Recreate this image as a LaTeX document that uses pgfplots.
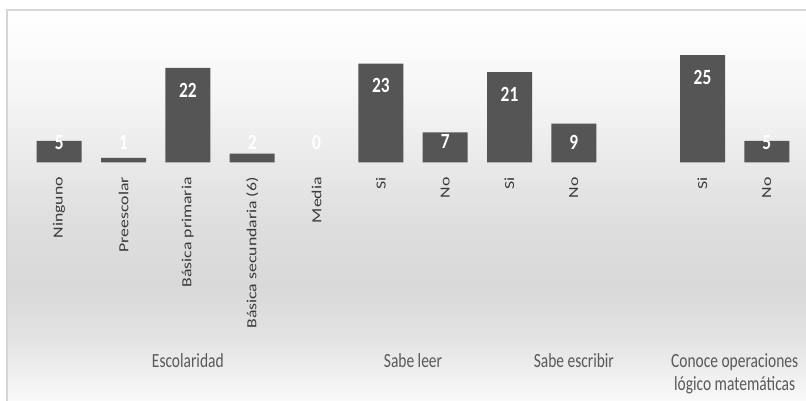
\documentclass[border=0pt]{standalone}
\usepackage{pgfplots}
\pgfplotsset{compat=1.18}
\usepackage{fontspec}
\setmainfont{Carlito}
\definecolor{barfill}{HTML}{555555}
\definecolor{ticktext}{HTML}{3A3A3A}
\definecolor{grouptext}{HTML}{595959}
\definecolor{framec}{HTML}{D6D6D6}
\definecolor{bgA}{HTML}{FBFBFB}
\definecolor{bgB}{HTML}{F0F0F0}
\definecolor{bgC}{HTML}{E2E2E2}
\definecolor{bgD}{HTML}{D9D9D9}
\definecolor{bgE}{HTML}{DEDEDE}
\definecolor{bgF}{HTML}{E9E9E9}
\definecolor{bgG}{HTML}{F6F6F6}
\definecolor{bgH}{HTML}{FFFFFF}
\pgfdeclareverticalshading{bgshade}{100bp}{color(0bp)=(bgA); color(25bp)=(bgA); color(28.85bp)=(bgB); color(33.97bp)=(bgC); color(40.4bp)=(bgD); color(48.1bp)=(bgE); color(55.8bp)=(bgF); color(64.7bp)=(bgG); color(75bp)=(bgH); color(100bp)=(bgH)}
\newcommand{\tl}[1]{\scalebox{1.28}[1]{#1}}
\newcommand{\gl}[1]{\scalebox{1}[1.3]{#1}}
\begin{document}
\begin{tikzpicture}
\useasboundingbox (0pt,0pt) rectangle (604.5pt,-300pt);
\shade[shading=bgshade] (5.25pt,-7.5pt) rectangle (610pt,-305pt);
\draw[framec, line width=0.8pt] (5.25pt,-305pt) -- (5.25pt,-7.5pt) -- (610pt,-7.5pt);
\begin{axis}[
  at={(20.25pt,-121.7pt)}, anchor=south west,
  scale only axis, width=579pt, height=96.5pt,
  xmin=-0.5, xmax=11.5, ymin=0, ymax=30,
  clip=false,
  axis line style={draw=none},
  ytick=\empty,
  major tick length=0pt,
  xtick={0,1,2,3,4,5,6,7,8,10,11},
  xticklabels={{\tl{Ninguno}},{\tl{Preescolar}},{\tl{Básica primaria}},{\tl{Básica secundaria (6)}},{\tl{Media}},{\tl{Si}},{\tl{No}},{\tl{Si}},{\tl{No}},{\tl{Si}},{\tl{No}}},
  xticklabel style={rotate=90, anchor=east, inner sep=0pt, font=\fontsize{10.4}{12}\selectfont, text=ticktext},
  xticklabel shift=11pt,
]
\addplot[ybar, bar width=33.75pt, fill=barfill, draw=none] coordinates {
  (0,5) (1,1) (2,22) (3,2) (5,23) (6,7) (7,21) (8,9) (10,25) (11,5)
};
\addplot[only marks, mark=none, point meta=explicit symbolic,
  nodes near coords={\scalebox{1}[1.25]{\pgfplotspointmeta}},
  nodes near coords style={anchor=center, inner sep=0pt, text=white, font=\bfseries\fontsize{13}{15}\selectfont}]
coordinates {
  (0,4.6) [5] (1,4.6) [1] (2,16.85) [22] (3,4.6) [2] (4,4.6) [0]
  (5,17.8) [23] (6,4.8) [7] (7,15.85) [21] (8,4.73) [9]
  (10,19.7) [25] (11,4.6) [5]
};
\node[anchor=base, text=grouptext, font=\fontsize{11.6}{14}\selectfont] at (axis cs:2,-47.9) {\gl{Escolaridad}};
\node[anchor=base, text=grouptext, font=\fontsize{11.6}{14}\selectfont] at (axis cs:5.5,-47.9) {\gl{Sabe leer}};
\node[anchor=base, text=grouptext, font=\fontsize{11.6}{14}\selectfont] at (axis cs:8,-47.9) {\gl{Sabe escribir}};
\node[anchor=base, text=grouptext, font=\fontsize{11.6}{14}\selectfont] at (axis cs:10.5,-47.9) {\gl{Conoce operaciones}};
\node[anchor=base, text=grouptext, font=\fontsize{11.6}{14}\selectfont] at (axis cs:10.5,-53.1) {\gl{lógico matemáticas}};
\end{axis}
\end{tikzpicture}
\end{document}
